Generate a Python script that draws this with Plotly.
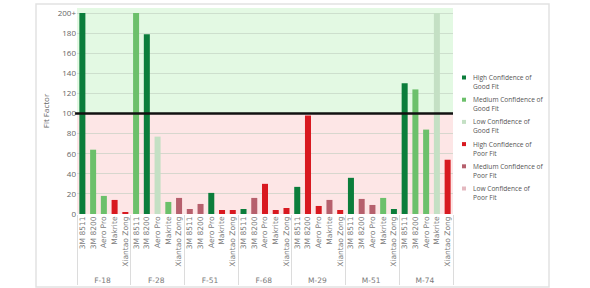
import plotly.graph_objects as go

groups = ["F-18", "F-28", "F-51", "F-68", "M-29", "M-51", "M-74"]
masks = ["3M 8511", "3M 8200", "Aero Pro", "Makrite", "Xiantao Zong"]

# Fit factor per group (200 represents "200+")
fit_f18 = [200, 64, 18, 14, 2]
fit_f28 = [200, 179, 77, 12, 16]
fit_f51 = [5, 10, 21, 4, 4]
fit_f68 = [5, 16, 30, 4, 6]
fit_m29 = [27, 98, 8, 14, 4]
fit_m51 = [36, 15, 9, 16, 5]
fit_m74 = [130, 124, 84, 200, 54]

conf_f18 = ["HG", "MG", "MG", "HP", "HP"]
conf_f28 = ["MG", "HG", "LG", "MG", "MP"]
conf_f51 = ["MP", "MP", "HG", "HP", "HP"]
conf_f68 = ["HG", "MP", "HP", "HP", "HP"]
conf_m29 = ["HG", "HP", "HP", "MP", "HP"]
conf_m51 = ["HG", "MP", "MP", "MG", "HG"]
conf_m74 = ["HG", "MG", "MG", "LG", "HP"]

level_codes = ["HG", "MG", "LG", "HP", "MP", "LP"]
level_names = ["High Confidence of<br>Good Fit", "Medium Confidence of<br>Good Fit",
               "Low Confidence of<br>Good Fit", "High Confidence of<br>Poor Fit",
               "Medium Confidence of<br>Poor Fit", "Low Confidence of<br>Poor Fit"]
level_colors = ["#0b7d3b", "#6cc06b", "#c4e0c4", "#d81920", "#b6606d", "#e4b9c0"]

ytick_vals = [0, 20, 40, 60, 80, 100, 120, 140, 160, 180, 200]
ytick_text = ["0", "20", "40", "60", "80", "100", "120", "140", "160", "180", "200+"]

all_fit = fit_f18 + fit_f28 + fit_f51 + fit_f68 + fit_m29 + fit_m51 + fit_m74
all_conf = conf_f18 + conf_f28 + conf_f51 + conf_f68 + conf_m29 + conf_m51 + conf_m74
x_outer = [g for g in groups for _ in masks]
x_inner = [m for _ in groups for m in masks]

FONT = "Open Sans"
W, H = 590, 288
ML, MR, MT, MB = 77, 137, 8, 74
PW, PH = W - ML - MR, H - MT - MB

fig = go.Figure()
for code, name, col in zip(level_codes, level_names, level_colors):
    ys = [v if c == code else None for v, c in zip(all_fit, all_conf)]
    fig.add_trace(go.Bar(x=[x_outer, x_inner], y=ys, marker=dict(color=col, line=dict(width=0)),
                         name=name, showlegend=False))

shapes = [
    dict(type="rect", xref="paper", yref="y", x0=0, x1=1, y0=100, y1=205,
         fillcolor="#e3f9e3", line=dict(width=0), layer="below"),
    dict(type="rect", xref="paper", yref="y", x0=0, x1=1, y0=0, y1=100,
         fillcolor="#fde6e6", line=dict(width=0), layer="below"),
    dict(type="line", xref="paper", yref="y", x0=-0.005, x1=1, y0=100, y1=100,
         line=dict(color="#111", width=2.5), layer="above"),
    dict(type="rect", xref="paper", yref="paper", x0=(36 - ML) / PW, x1=(549 - ML) / PW,
         y0=(H - MB - 287) / PH, y1=(H - MB - 4) / PH,
         line=dict(color="#e2e2e2", width=1.5), fillcolor="rgba(0,0,0,0)", layer="below"),
]
annotations = []
for i, (name, col) in enumerate(zip(level_names, level_colors)):
    my = 77.5 + 22.2 * i
    mx = 464
    shapes.append(dict(type="rect", xref="paper", yref="paper",
                       x0=(mx - 2 - ML) / PW, x1=(mx + 2 - ML) / PW,
                       y0=(H - MB - (my + 2)) / PH, y1=(H - MB - (my - 2)) / PH,
                       fillcolor=col, line=dict(width=0)))
    annotations.append(dict(xref="paper", yref="paper", x=(470.5 - ML) / PW,
                            y=(H - MB - (my - 6.5)) / PH, xanchor="left", yanchor="top",
                            text=name, showarrow=False, align="left",
                            font=dict(size=6.6, color="#555", family=FONT)))

fig.update_layout(
    width=W, height=H,
    margin=dict(l=ML, r=MR, t=MT, b=MB, autoexpand=False),
    paper_bgcolor="white", plot_bgcolor="white",
    barmode="overlay", bargap=0.44,
    font=dict(family=FONT, size=8, color="#666"),
    showlegend=False,
    xaxis=dict(type="multicategory", tickangle=-90, automargin=False,
               tickfont=dict(size=7.5, color="#7a7a7a", family="DejaVu Sans"),
               showdividers=True, dividercolor="#dcdcdc", dividerwidth=1,
               showgrid=False, zeroline=False, ticks="", showline=False),
    yaxis=dict(range=[0, 205], tickvals=ytick_vals, ticktext=ytick_text, automargin=False,
               gridcolor="rgba(190,205,190,0.6)", gridwidth=1, zeroline=False,
               tickfont=dict(size=8, color="#666"), ticklen=0,
               title=dict(text="Fit Factor", font=dict(size=8, color="#666"), standoff=6)),
    shapes=shapes,
    annotations=annotations,
)

fig.write_html("out.html")
